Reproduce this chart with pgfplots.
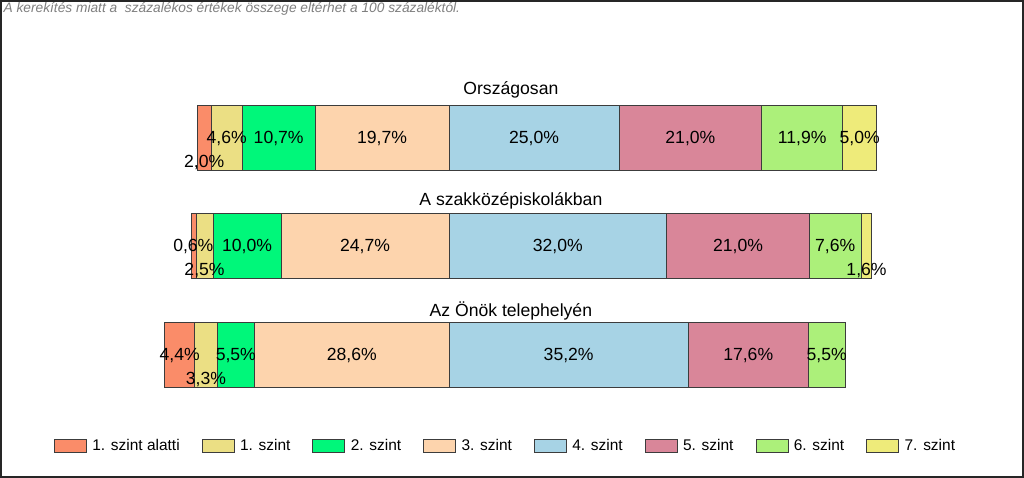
\documentclass[border=0pt]{standalone}
\usepackage{fontspec}
\setmainfont{Liberation Sans}
\usepackage{pgfplots}
\usepackage{pgfplotstable}
\pgfplotsset{compat=1.18}

\definecolor{c0}{HTML}{FA8C69}
\definecolor{c1}{HTML}{EBDF84}
\definecolor{c2}{HTML}{00F77A}
\definecolor{c3}{HTML}{FDD4AD}
\definecolor{c4}{HTML}{A7D3E5}
\definecolor{c5}{HTML}{D98699}
\definecolor{c6}{HTML}{ACF07A}
\definecolor{c7}{HTML}{EEEB7A}
\definecolor{edge}{HTML}{3C3C3C}
\definecolor{note}{HTML}{7F7F7F}

% y = bar centre (px from bottom); off = invisible lead-in so that the
% 3./4. szint boundary sits at x = 50 on every bar
\pgfplotstableread{
y     off   s0  s1  s2   s3   s4   s5   s6
340   13.0  2.0 4.6 10.7 19.7 25.0 21.0 11.9
231.5 12.2  0.6 2.5 10.0 24.7 32.0 21.0 7.6
122.5 8.2   4.4 3.3 5.5  28.6 35.2 17.6 5.5
}\bars

% data labels: segment centre, y position, text
\pgfplotstableread{
x      y     lbl
14.0   316   2,0
17.3   340   4,6
24.95  340   10,7
40.15  340   19,7
62.5   340   25,0
85.5   340   21,0
101.95 340   11,9
110.4  340   5,0
12.4   231.5 0,6
14.05  208   2,5
20.3   231.5 10,0
37.65  231.5 24,7
66.0   231.5 32,0
92.5   231.5 21,0
106.8  231.5 7,6
111.4  208   1,6
10.4   122.5 4,4
14.25  99    3,3
18.65  122.5 5,5
35.7   122.5 28,6
67.6   122.5 35,2
94.0   122.5 17,6
105.55 122.5 5,5
}\labels

\pgfplotsset{
  base/.style={
    scale only axis, width=768pt, height=358.5pt,
    xmin=-16.03, xmax=134.56, ymin=0, ymax=478,
    axis lines=none, ticks=none, clip=false,
    at={(0,0)}, anchor=south west,
  },
}

\begin{document}
\begin{tikzpicture}
\useasboundingbox (0,0) rectangle (768pt,358.5pt);

\begin{axis}[
  base,
  xbar stacked,
  bar width=65,
  legend image code/.code={\draw[#1] (0pt,-4.9pt) rectangle (24pt,4.9pt);},
  legend columns=8,
  legend cell align=left,
  legend style={at={(0.494,0.067)}, anchor=center, draw=none, fill=none,
    font=\fontsize{11.6}{13}\selectfont,
    /tikz/every odd column/.append style={column sep=2pt},
    /tikz/every even column/.append style={column sep=14.5pt}},
  every axis plot/.append style={draw=edge, line width=0.75pt},
]
\addplot[draw=none, fill=none, forget plot] table[x=off, y=y]{\bars};
\addplot[fill=c0] table[x=s0, y=y]{\bars};
\addplot[fill=c1] table[x=s1, y=y]{\bars};
\addplot[fill=c2] table[x=s2, y=y]{\bars};
\addplot[fill=c3] table[x=s3, y=y]{\bars};
\addplot[fill=c4] table[x=s4, y=y]{\bars};
\addplot[fill=c5] table[x=s5, y=y]{\bars};
\addplot[fill=c6] table[x=s6, y=y]{\bars};
\addplot[fill=c7] coordinates {(5.0,340) (1.6,231.5)};
\legend{1. szint alatti, 1. szint, 2. szint, 3. szint, 4. szint, 5. szint, 6. szint, 7. szint}
\end{axis}

\begin{axis}[base]
\addplot[only marks, mark=none, nodes near coords={\pgfplotspointmeta\%},
  point meta=explicit symbolic,
  nodes near coords style={anchor=center, inner sep=0pt, text=black,
    font=\fontsize{13.2}{15}\selectfont}]
  table[x=x, y=y, meta=lbl]{\labels};
\node[font=\fontsize{13.2}{15}\selectfont] at (axis cs:59.1,388) {Országosan};
\node[font=\fontsize{13.2}{15}\selectfont] at (axis cs:59.1,277.3) {A szakközépiskolákban};
\node[font=\fontsize{13.2}{15}\selectfont] at (axis cs:59.1,167.3) {Az Önök telephelyén};
\end{axis}

\node[anchor=north west, inner sep=0pt, text=note,
  font=\itshape\fontsize{10.3}{12}\selectfont] at (2.5pt,357pt)
  {A kerekítés miatt a \ százalékos értékek összege eltérhet a 100 százaléktól.};
\draw[line width=1.5pt, black!85] (0.75pt,0.75pt) rectangle (767.25pt,357.75pt);
\end{tikzpicture}
\end{document}
